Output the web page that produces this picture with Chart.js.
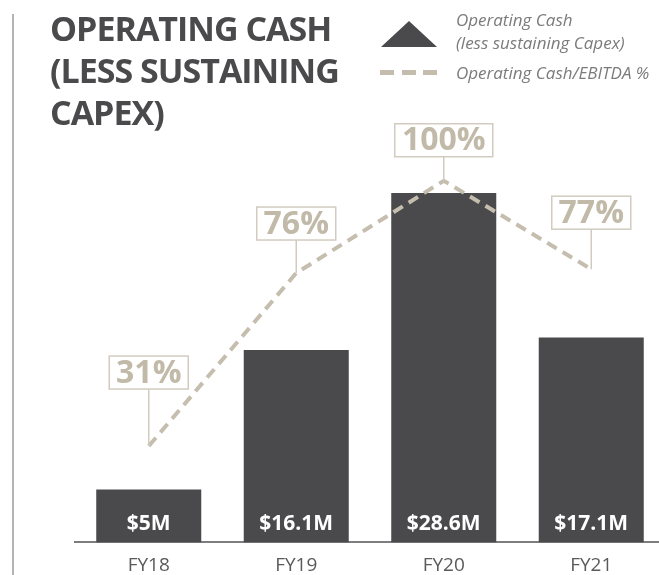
<!DOCTYPE html>
<html>
<head>
<meta charset="utf-8">
<script src="https://cdn.jsdelivr.net/npm/chart.js@4"></script>
<style>
  body { margin: 0; overflow: hidden; background: #fff; }
  #wrap { position: relative; width: 665px; height: 575px; overflow: hidden; }
  #chart { position: absolute; left: 0; top: 0; }
  .rule { position: absolute; left: 12px; top: 14px; width: 2px; height: 561px; background: #b3b3b3; }
  .title {
    position: absolute; left: 50px; top: 7px;
    font: 700 34px/42px "Open Sans", sans-serif; letter-spacing: -1px;
    color: #4a4a4c;
  }
  .legend-text {
    position: absolute; left: 456px;
    font: italic 17px/23px "Open Sans", sans-serif; color: #7b7b7b;
  }
  .legend-icon { position: absolute; left: 380px; }
</style>
</head>
<body>
<div id="wrap">
  <canvas id="chart" width="665" height="589"></canvas>
  <div class="rule"></div>
  <div class="title">OPERATING CASH<br>(LESS SUSTAINING<br>CAPEX)</div>
  <svg class="legend-icon" style="top:21px" width="58" height="27"><polygon points="29,0 57,26 1,26" fill="#4a4a4c"/></svg>
  <div class="legend-text" style="top:8px">Operating Cash<br>(less sustaining Capex)</div>
  <svg class="legend-icon" style="top:70px" width="58" height="5">
    <rect x="0" y="0" width="14" height="5" fill="#c4bdad"/>
    <rect x="22" y="0" width="14" height="5" fill="#c4bdad"/>
    <rect x="43" y="0" width="14" height="5" fill="#c4bdad"/>
  </svg>
  <div class="legend-text" style="top:61px">Operating Cash/EBITDA %</div>
</div>
<script>
// FY data
const years = ['FY18', 'FY19', 'FY20', 'FY21'];
const cashValues = [5, 16.1, 28.6, 17.1];          // $M, operating cash less sustaining capex
const cashLabels = ['$5M', '$16.1M', '$28.6M', '$17.1M'];
const ratioValues = [31, 76, 100, 77];              // operating cash / EBITDA, %
const ratioLabels = ['31%', '76%', '100%', '77%'];

// how high each % box sits above its point (px)
const boxLift = [57, 33, 24, 40];

const labelPlugin = {
    id: 'valueLabels',
    afterDatasetsDraw(chart) {
        const ctx = chart.ctx;
        const bars = chart.getDatasetMeta(0).data;
        const pts = chart.getDatasetMeta(1).data;
        const floor = chart.chartArea.bottom;
        ctx.save();
        ctx.textAlign = 'center';
        ctx.textBaseline = 'middle';

        // bar values, white inside the bar foot
        ctx.font = 'bold 21px "Open Sans"';
        ctx.fillStyle = '#ffffff';
        bars.forEach((bar, i) => {
            ctx.fillText(cashLabels[i], bar.x, floor - 18);
        });

        // % boxes with a stem down to the line
        ctx.font = 'bold 32px "Open Sans"';
        pts.forEach((pt, i) => {
            const w = Math.round(ctx.measureText(ratioLabels[i]).width) + 14;
            const h = 33;
            const bottom = pt.y - boxLift[i];
            ctx.strokeStyle = '#d2ccc0';
            ctx.lineWidth = 1.5;
            ctx.beginPath();
            ctx.moveTo(pt.x, bottom);
            ctx.lineTo(pt.x, pt.y);
            ctx.stroke();
            ctx.strokeRect(pt.x - w / 2, bottom - h, w, h);
            ctx.fillStyle = '#c2baa8';
            ctx.fillText(ratioLabels[i], pt.x, bottom - h / 2 + 1);
        });
        ctx.restore();
    }
};

const ctx = document.getElementById('chart').getContext('2d');
const myChart = new Chart(ctx, {
    type: 'bar',
    data: {
        labels: years,
        datasets: [{
            label: 'Operating Cash (less sustaining Capex)',
            data: cashValues,
            backgroundColor: '#4a4a4c',
            barPercentage: 0.712,
            categoryPercentage: 1,
            yAxisID: 'y',
            order: 1
        }, {
            type: 'line',
            label: 'Operating Cash/EBITDA %',
            data: ratioValues,
            borderColor: '#c5beae',
            borderWidth: 4,
            borderDash: [11, 7],
            pointRadius: 0,
            fill: false,
            tension: 0,
            yAxisID: 'y2',
            order: 0
        }]
    },
    options: {
        responsive: false,
        animation: false,
        layout: {
            padding: { top: 100, left: 75, right: 0, bottom: 0 }
        },
        plugins: {
            legend: { display: false },
            tooltip: { enabled: false }
        },
        scales: {
            x: {
                grid: { display: false, drawTicks: false },
                border: { display: true, color: '#7d7d7d', width: 2 },
                ticks: {
                    color: '#5a5a5a',
                    padding: 12,
                    font: { family: 'Open Sans', size: 19 }
                }
            },
            y: {
                display: false,
                min: 0.8,
                max: 36
            },
            y2: {
                display: false,
                min: 6,
                max: 121
            }
        }
    },
    plugins: [labelPlugin]
});
</script>
</body>
</html>
